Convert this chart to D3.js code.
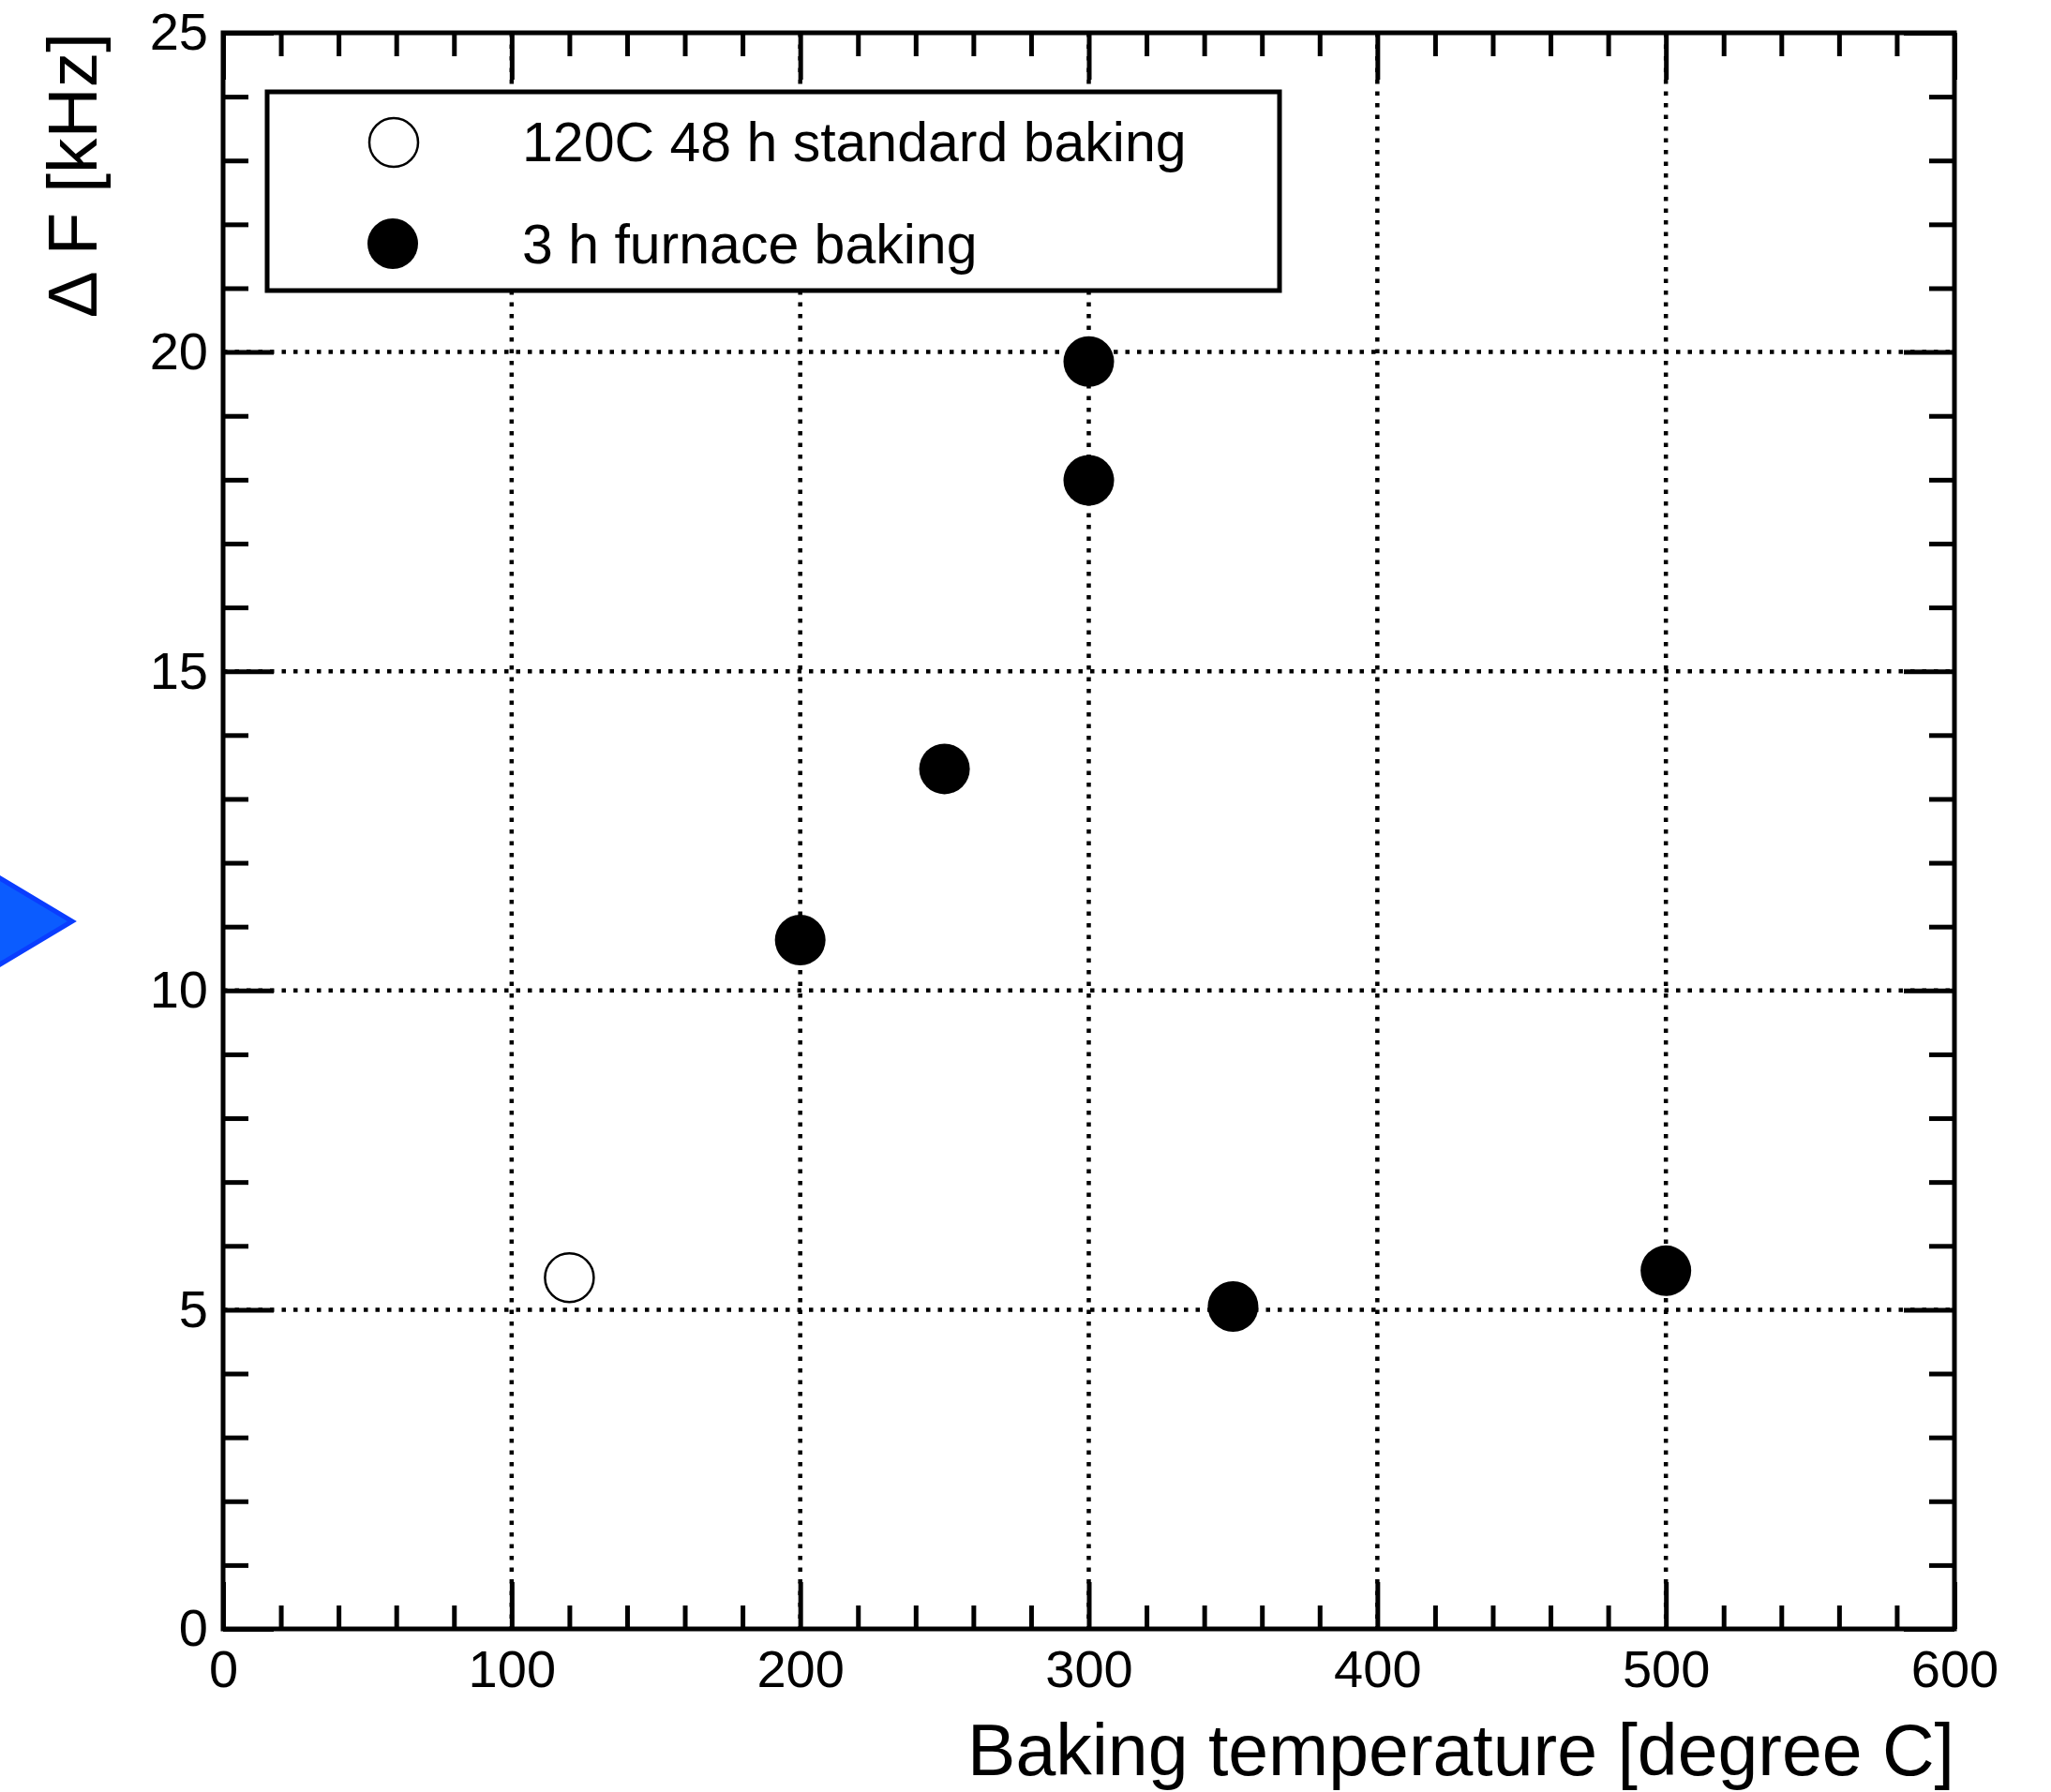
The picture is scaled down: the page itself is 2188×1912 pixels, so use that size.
<!DOCTYPE html>
<html>
<head>
<meta charset="utf-8">
<script src="https://cdn.jsdelivr.net/npm/d3@7"></script>
<style>
  html, body { margin: 0; padding: 0; background: #fff; }
  svg { display: block; font-family: "Liberation Sans", Arial, Helvetica, sans-serif; }
</style>
</head>
<body>
<script>
// Frequency shift vs. baking temperature
const standardTemp = [120];
const standardShift = [5.5];

const furnaceTemp = [200, 250, 300, 300, 350, 500];
const furnaceShift = [10.79, 13.47, 19.85, 17.99, 5.05, 5.61];

const xMajorTicks = [0, 100, 200, 300, 400, 500, 600];
const yMajorTicks = [0, 5, 10, 15, 20, 25];
const legendLabels = ["120C 48 h standard baking", "3 h furnace baking"];

(function() {
  const W = 2188, H = 1912;
  const plotLeft = 238, plotRight = 2085, plotTop = 35, plotBottom = 1738;

  const svg = d3.select("body").append("svg")
      .attr("width", W)
      .attr("height", H);

  svg.append("rect").attr("width", W).attr("height", H).attr("fill", "#fff");

  const x = d3.scaleLinear().domain([0, 600]).range([plotLeft, plotRight]);
  const y = d3.scaleLinear().domain([0, 25]).range([plotBottom, plotTop]);

  const xMinor = d3.range(0, 601, 20).filter(v => v % 100 !== 0);
  const yMinor = d3.range(0, 26, 1).filter(v => v % 5 !== 0);

  // dotted grid at inner major ticks
  const grid = svg.append("g")
      .attr("stroke", "#000")
      .attr("stroke-width", 4.5)
      .attr("stroke-dasharray", "4.5,8");

  grid.selectAll(".gx")
    .data(xMajorTicks.slice(1, -1))
    .join("line")
      .attr("class", "gx")
      .attr("x1", d => x(d)).attr("x2", d => x(d))
      .attr("y1", plotTop).attr("y2", plotBottom);

  grid.selectAll(".gy")
    .data(yMajorTicks.slice(1, -1))
    .join("line")
      .attr("class", "gy")
      .attr("x1", plotLeft).attr("x2", plotRight)
      .attr("y1", d => y(d)).attr("y2", d => y(d));

  // tick marks on all four sides, pointing inward
  function styleAxis(g) {
    g.select(".domain").remove();
    g.selectAll(".tick line").attr("stroke", "#000").attr("stroke-width", 5);
    g.selectAll("text").attr("fill", "#000").attr("font-size", 56)
      .attr("font-family", "'Liberation Sans', Arial, Helvetica, sans-serif");
  }

  svg.append("g")
      .attr("transform", `translate(0,${plotBottom})`)
      .call(d3.axisBottom(x).tickValues(xMinor).tickSize(-25).tickFormat(""))
      .call(styleAxis);
  svg.append("g")
      .attr("transform", `translate(0,${plotBottom})`)
      .call(d3.axisBottom(x).tickValues(xMajorTicks).tickSize(-50).tickPadding(22).tickFormat(d3.format("d")))
      .call(styleAxis);

  svg.append("g")
      .attr("transform", `translate(0,${plotTop})`)
      .call(d3.axisTop(x).tickValues(xMinor).tickSize(-25).tickFormat(""))
      .call(styleAxis);
  svg.append("g")
      .attr("transform", `translate(0,${plotTop})`)
      .call(d3.axisTop(x).tickValues(xMajorTicks).tickSize(-50).tickFormat(""))
      .call(styleAxis);

  svg.append("g")
      .attr("transform", `translate(${plotLeft},0)`)
      .call(d3.axisLeft(y).tickValues(yMinor).tickSize(-27).tickFormat(""))
      .call(styleAxis);
  svg.append("g")
      .attr("transform", `translate(${plotLeft},0)`)
      .call(d3.axisLeft(y).tickValues(yMajorTicks).tickSize(-54).tickPadding(16).tickFormat(d3.format("d")))
      .call(styleAxis);

  svg.append("g")
      .attr("transform", `translate(${plotRight},0)`)
      .call(d3.axisRight(y).tickValues(yMinor).tickSize(-27).tickFormat(""))
      .call(styleAxis);
  svg.append("g")
      .attr("transform", `translate(${plotRight},0)`)
      .call(d3.axisRight(y).tickValues(yMajorTicks).tickSize(-54).tickFormat(""))
      .call(styleAxis);

  // frame
  svg.append("rect")
      .attr("x", plotLeft).attr("y", plotTop)
      .attr("width", plotRight - plotLeft).attr("height", plotBottom - plotTop)
      .attr("fill", "none")
      .attr("stroke", "#000")
      .attr("stroke-width", 5);

  // axis titles
  svg.append("text")
      .attr("x", plotRight).attr("y", 1894)
      .attr("text-anchor", "end")
      .attr("font-size", 77)
      .text("Baking temperature [degree C]");

  svg.append("text")
      .attr("transform", `translate(103,${plotTop}) rotate(-90)`)
      .attr("text-anchor", "end")
      .attr("font-size", 75)
      .text("\u0394 F [kHz]");

  // data points
  const R = 27;
  svg.append("g").selectAll("circle")
    .data(standardTemp.map((t, i) => [t, standardShift[i]]))
    .join("circle")
      .attr("cx", d => x(d[0])).attr("cy", d => y(d[1]))
      .attr("r", R - 1)
      .attr("fill", "#fff")
      .attr("stroke", "#000")
      .attr("stroke-width", 2.5);

  svg.append("g").selectAll("circle")
    .data(furnaceTemp.map((t, i) => [t, furnaceShift[i]]))
    .join("circle")
      .attr("cx", d => x(d[0])).attr("cy", d => y(d[1]))
      .attr("r", R)
      .attr("fill", "#000");

  // legend
  const legend = svg.append("g");
  legend.append("rect")
      .attr("x", 285).attr("y", 98)
      .attr("width", 1080).attr("height", 212)
      .attr("fill", "#fff")
      .attr("stroke", "#000")
      .attr("stroke-width", 5);

  legend.append("circle")
      .attr("cx", 420).attr("cy", 152).attr("r", R - 1)
      .attr("fill", "#fff").attr("stroke", "#000").attr("stroke-width", 2.5);
  legend.append("circle")
      .attr("cx", 419).attr("cy", 260).attr("r", R)
      .attr("fill", "#000");

  legend.selectAll("text")
    .data(legendLabels)
    .join("text")
      .attr("x", 557)
      .attr("y", (d, i) => i === 0 ? 172 : 281)
      .attr("font-size", 59)
      .text(d => d);

  // pointer arrow at the left edge
  svg.append("path")
      .attr("d", "M-10,931 L77,983 L-10,1035 Z")
      .attr("fill", "#0b5cff")
      .attr("stroke", "#0a3dff")
      .attr("stroke-width", 5)
      .attr("stroke-linejoin", "miter");
})();
</script>
</body>
</html>
